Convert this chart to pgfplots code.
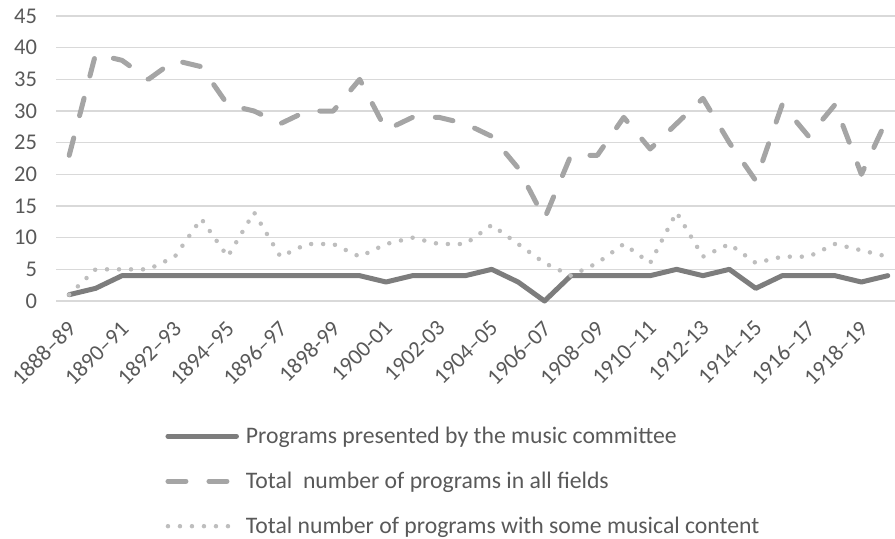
\documentclass[border=0pt]{standalone}
\usepackage{fontspec}
\setmainfont{Carlito}
\usepackage{pgfplots}
\pgfplotsset{compat=1.18}
\definecolor{cSolid}{RGB}{125,125,125}
\definecolor{cDash}{RGB}{165,165,165}
\definecolor{cDot}{RGB}{190,190,190}
\definecolor{gridgray}{RGB}{217,217,217}
\definecolor{textgray}{RGB}{89,89,89}
\begin{document}
\begin{tikzpicture}
\begin{axis}[
    at={(56bp,-301bp)}, anchor=south west,
    scale only axis, width=845bp, height=285bp,
    xmin=-0.5, xmax=31.5, ymin=0, ymax=45,
    clip=false,
    ytick={0,5,...,45},
    xtick={0,2,...,30},
    xticklabels={1888–89,1890–91,1892–93,1894–95,1896–97,1898-99,1900-01,1902-03,
                 1904–05,1906–07,1908–09,1910–11,1912-13,1914–15,1916–17,1918–19},
    axis line style={draw=none},
    major tick length=0pt,
    ymajorgrids,
    grid style={color=gridgray, line width=1.2bp},
    tick label style={font=\fontsize{22.5bp}{26bp}\selectfont, text=textgray},
    /pgf/number format/assume math mode=true,
    yticklabel style={xshift=-15.5bp},
    xticklabel style={xshift=-3bp, yshift=-18bp, rotate=45, anchor=north east, inner sep=0pt},
    legend style={draw=none, fill=none, at={(0.1293,-0.4333)}, anchor=north west,
        inner sep=0pt, row sep=22bp, column sep=0pt,
        font=\fontsize{23.7bp}{28bp}\selectfont, text=textgray,
        nodes={inner sep=0pt, text height=19bp, text depth=4bp}},
    legend cell align=left,
    legend image code/.code={\draw[#1] (0bp,0bp) -- (68.5bp,0bp);},
]
\addplot[color=cSolid, line width=5bp, line join=round, line cap=round] coordinates {
    (0,1) (1,2) (2,4) (3,4) (4,4) (5,4) (6,4) (7,4) (8,4) (9,4) (10,4) (11,4)
    (12,3) (13,4) (14,4) (15,4) (16,5) (17,3) (18,0) (19,4) (20,4) (21,4) (22,4)
    (23,5) (24,4) (25,5) (26,2) (27,4) (28,4) (29,4) (30,3) (31,4)
};
\addlegendentry{\hspace{7bp}Programs presented by the music committee}
\addplot[color=cDash, line width=5bp, line join=round, line cap=round,
         dash pattern=on 18bp off 23bp] coordinates {
    (0,23) (1,39) (2,38) (3,35) (4,38) (5,37) (6,31) (7,30) (8,28) (9,30) (10,30)
    (11,35) (12,27) (13,29) (14,29) (15,28) (16,26) (17,21) (18,13) (19,23) (20,23)
    (21,29) (22,24) (23,28) (24,32) (25,25) (26,19) (27,31) (28,26) (29,31) (30,20) (31,29)
};
\addlegendentry{\hspace{7bp}Total\ \ number of programs in all fields}
\addplot[color=cDot, line width=4.5bp, line join=round, line cap=round,
         dash pattern=on 0bp off 12bp] coordinates {
    (0,1) (1,5) (2,5) (3,5) (4,7) (5,13) (6,7) (7,14) (8,7) (9,9) (10,9) (11,7)
    (12,9) (13,10) (14,9) (15,9) (16,12) (17,9) (18,6) (19,4) (20,6) (21,9) (22,6)
    (23,14) (24,7) (25,9) (26,6) (27,7) (28,7) (29,9) (30,8) (31,7)
};
\addlegendentry{\hspace{7bp}Total number of programs with some musical content}
\end{axis}
\pgfresetboundingbox
\useasboundingbox (0,0) rectangle (895bp,-539bp);
\end{tikzpicture}
\end{document}
